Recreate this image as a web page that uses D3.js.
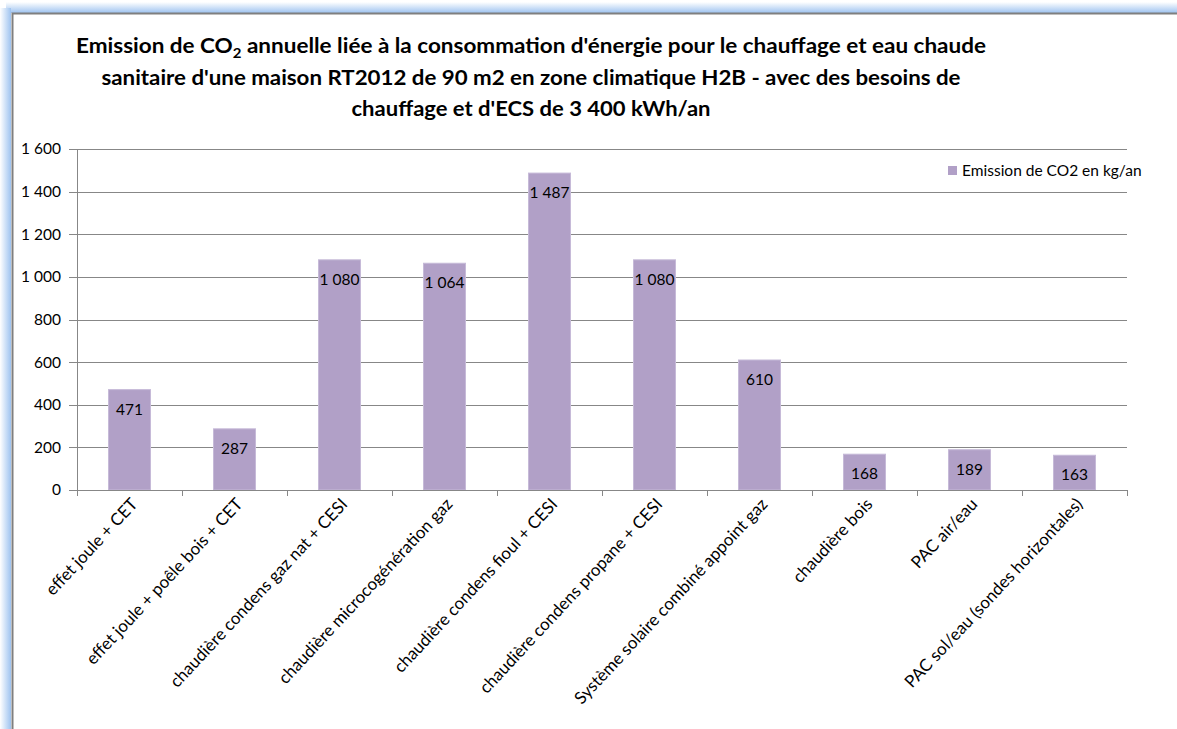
<!DOCTYPE html>
<html>
<head>
<meta charset="utf-8">
<script src="https://cdn.jsdelivr.net/npm/d3@7"></script>
<style>
  body { margin: 0; background: #fff; }
  text { font-family: Lato, "Open Sans", "Liberation Sans", sans-serif; fill: #000; }
</style>
</head>
<body>
<div id="chart"></div>
<script>
// données
const categories = [
  "effet joule + CET",
  "effet joule + poêle bois + CET",
  "chaudière condens gaz nat + CESI",
  "chaudière microcogénération gaz",
  "chaudière condens fioul + CESI",
  "chaudière condens propane + CESI",
  "Système solaire combiné appoint gaz",
  "chaudière bois",
  "PAC air/eau",
  "PAC sol/eau (sondes horizontales)"
];
const values = [471, 287, 1080, 1064, 1487, 1080, 610, 168, 189, 163];
const yTicks = [0, 200, 400, 600, 800, 1000, 1200, 1400, 1600];
const seriesName = "Emission de CO2 en kg/an";
const titleLines = [
  ["Emission de CO", "2", " annuelle liée à la consommation d'énergie pour le chauffage et eau chaude"],
  ["sanitaire d'une maison RT2012 de 90 m2 en zone climatique H2B - avec des besoins de"],
  ["chauffage et d'ECS de 3 400 kWh/an"]
];

const W = 1177, H = 729;
const margin = { top: 149, right: 50, bottom: 239, left: 77 };
const width = W - margin.left - margin.right;   // 1050
const height = H - margin.top - margin.bottom;  // 341
const barColor = "#b1a0c7";
const gridColor = "#878787";
const fs = 15.5;

const fr = d3.formatLocale({ decimal: ",", thousands: "\u00a0", grouping: [3], currency: ["", " €"] });
const fmt = fr.format(",d");

const root = d3.select("#chart").append("svg")
  .attr("width", W)
  .attr("height", H);

// cadre avec reflet bleu (haut et gauche)
const defs = root.append("defs");
const gTop = defs.append("linearGradient").attr("id", "glowTop").attr("x1", 0).attr("y1", 0).attr("x2", 0).attr("y2", 1);
gTop.append("stop").attr("offset", "0%").attr("stop-color", "#ffffff");
gTop.append("stop").attr("offset", "100%").attr("stop-color", "#9ec3f0");
const gLeft = defs.append("linearGradient").attr("id", "glowLeft").attr("x1", 0).attr("y1", 0).attr("x2", 1).attr("y2", 0);
gLeft.append("stop").attr("offset", "0%").attr("stop-color", "#ffffff");
gLeft.append("stop").attr("offset", "100%").attr("stop-color", "#9ec3f0");

root.append("rect").attr("x", 6).attr("y", 2).attr("width", W - 6).attr("height", 11).attr("fill", "url(#glowTop)");
root.append("rect").attr("x", 0).attr("y", 8).attr("width", 11).attr("height", H - 8).attr("fill", "url(#glowLeft)");
root.append("path")
  .attr("d", `M12.5,${H} V13.5 H${W}`)
  .attr("fill", "none")
  .attr("stroke", "#7f7f7f")
  .attr("stroke-width", 2);

// titre
const title = root.append("g").attr("font-weight", "bold").attr("font-size", 21);
const titleWidths = [910, 859, 359];
titleLines.forEach((parts, i) => {
  const t = title.append("text")
    .attr("x", 531)
    .attr("y", 53 + i * 31.5)
    .attr("text-anchor", "middle");
  parts.forEach((p, j) => {
    if (parts.length > 1 && j === 1) {
      t.append("tspan").attr("font-size", 14).attr("dy", 5).text(p);
    } else if (parts.length > 1 && j === 2) {
      t.append("tspan").attr("dy", -5).text(p);
    } else {
      t.append("tspan").text(p);
    }
  });
  t.attr("textLength", titleWidths[i]).attr("lengthAdjust", "spacingAndGlyphs");
});

const svg = root.append("g")
  .attr("transform", `translate(${margin.left},${margin.top})`);

const x = d3.scaleBand()
  .domain(categories)
  .range([0, width])
  .paddingInner(0.6)
  .paddingOuter(0.3);

const y = d3.scaleLinear()
  .domain([0, 1600])
  .range([height, 0]);

// grille
svg.append("g")
  .selectAll("line")
  .data(yTicks)
  .enter()
  .append("line")
  .attr("x1", -8)
  .attr("x2", width)
  .attr("y1", d => Math.round(y(d)) + 0.5)
  .attr("y2", d => Math.round(y(d)) + 0.5)
  .attr("stroke", gridColor);

// axe Y
const yAxis = svg.append("g")
  .call(d3.axisLeft(y).tickValues(yTicks).tickFormat(fmt).tickSize(0).tickPadding(16));
yAxis.select(".domain").remove();
yAxis.selectAll("text").attr("font-size", fs).attr("fill", "#000");
svg.append("line")
  .attr("x1", 0.5).attr("x2", 0.5)
  .attr("y1", 0).attr("y2", height)
  .attr("stroke", gridColor);

// barres
svg.selectAll(".bar")
  .data(values)
  .enter()
  .append("rect")
  .attr("class", "bar")
  .attr("x", (d, i) => x(categories[i]))
  .attr("y", d => y(d))
  .attr("width", x.bandwidth())
  .attr("height", d => height - y(d))
  .attr("fill", barColor)
  .attr("stroke", "#c6bad8")
  .attr("stroke-width", 1);

// étiquettes de valeurs
svg.selectAll(".val")
  .data(values)
  .enter()
  .append("text")
  .attr("class", "val")
  .attr("x", (d, i) => x(categories[i]) + x.bandwidth() / 2)
  .attr("y", d => y(d) + 25)
  .attr("text-anchor", "middle")
  .attr("font-size", fs)
  .text(d => fmt(d));

// axe X
const step = width / categories.length;
svg.append("g")
  .selectAll("line")
  .data(d3.range(categories.length + 1))
  .enter()
  .append("line")
  .attr("x1", i => Math.round(i * step) + 0.5)
  .attr("x2", i => Math.round(i * step) + 0.5)
  .attr("y1", height)
  .attr("y2", height + 6)
  .attr("stroke", gridColor);

svg.append("line")
  .attr("x1", 0).attr("x2", width)
  .attr("y1", height + 0.5).attr("y2", height + 0.5)
  .attr("stroke", gridColor);

svg.append("g")
  .selectAll("text")
  .data(categories)
  .enter()
  .append("text")
  .attr("transform", d => `translate(${x(d) + x.bandwidth() / 2 + 9},${height + 15}) rotate(-47)`)
  .attr("text-anchor", "end")
  .attr("font-size", 17)
  .text(d => d);

// légende
const legend = root.append("g").attr("transform", "translate(948,166)");
legend.append("rect").attr("width", 9).attr("height", 9).attr("fill", barColor);
legend.append("text").attr("x", 14).attr("y", 10).attr("font-size", fs).text(seriesName);
</script>
</body>
</html>
